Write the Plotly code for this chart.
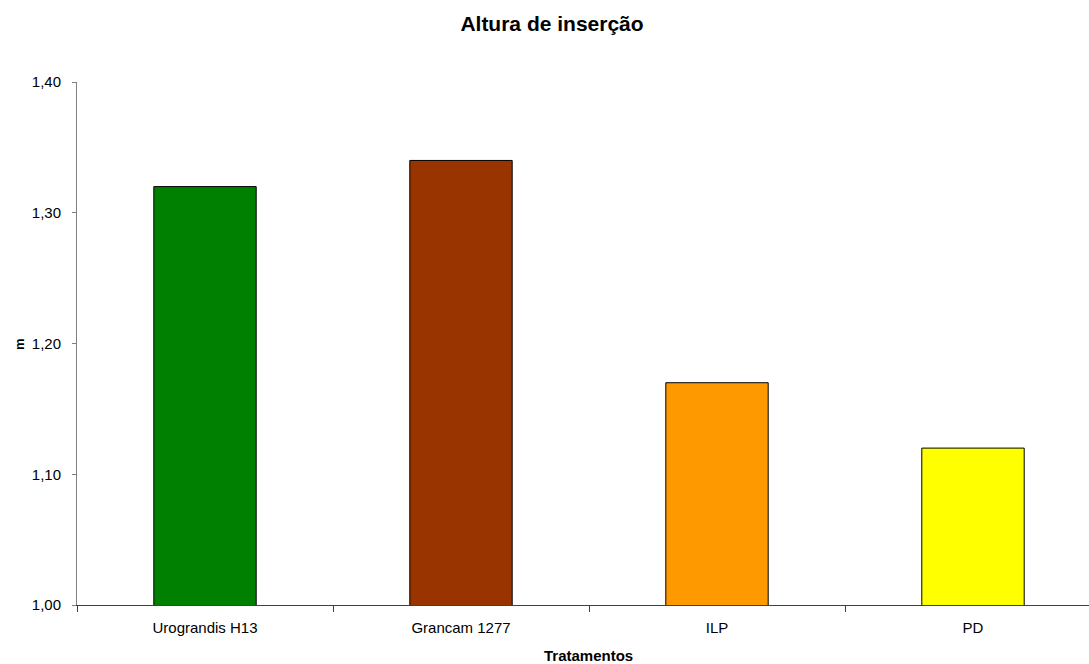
import plotly.graph_objects as go

# Altura de inserção por tratamento (m)
tratamentos = ["Urograndis H13", "Grancam 1277", "ILP", "PD"]
altura = [1.32, 1.34, 1.17, 1.12]
cores = ["#008000", "#993300", "#FF9900", "#FFFF00"]
y_ticks = [1.00, 1.10, 1.20, 1.30, 1.40]

FONT = "Liberation Sans, Arial, sans-serif"

W, H = 1089, 664
ML, MT, MB = 77, 82, 59

fig = go.Figure(
    go.Bar(
        x=tratamentos,
        y=altura,
        width=0.40,
        marker=dict(color=cores, line=dict(color="#000000", width=1)),
        showlegend=False,
    )
)

plot_w = W - ML
plot_h = H - MT - MB


def paper_x(px):
    return (px - ML) / plot_w


def paper_y(py):
    return (H - MB - py) / plot_h


fig.update_layout(
    width=W,
    height=H,
    margin=dict(l=ML, r=0, t=MT, b=MB),
    paper_bgcolor="white",
    plot_bgcolor="white",
    separators=",.",
    font=dict(family=FONT, size=15, color="#000000"),
    title=dict(
        text="<b>Altura de inserção</b>",
        font=dict(size=21, family=FONT, color="#000000"),
        x=552 / W,
        xref="container",
        xanchor="center",
        y=1 - 24 / H,
        yref="container",
        yanchor="middle",
    ),
    xaxis=dict(
        type="category",
        range=[-0.5, -0.5 + plot_w / 256],
        tickson="boundaries",
        ticks="outside",
        ticklen=6,
        tickcolor="#404040",
        showline=True,
        linecolor="#404040",
        linewidth=1,
        showgrid=False,
        tickfont=dict(size=15, family=FONT),
        ticklabelstandoff=9,
    ),
    yaxis=dict(
        range=[1.0, 1.4],
        tickvals=y_ticks,
        tickformat=".2f",
        ticks="outside",
        ticklen=4,
        tickcolor="#808080",
        showline=True,
        linecolor="#808080",
        linewidth=1,
        showgrid=False,
        zeroline=False,
        tickfont=dict(size=15, family=FONT),
        ticklabelstandoff=8,
    ),
    annotations=[
        dict(
            text="<b>Tratamentos</b>",
            x=paper_x(588), y=paper_y(655), xref="paper", yref="paper",
            xanchor="center", yanchor="middle",
            showarrow=False, font=dict(size=15, family=FONT),
        ),
        dict(
            text="<b>m</b>",
            x=paper_x(19), y=paper_y(344), xref="paper", yref="paper",
            xanchor="center", yanchor="middle",
            textangle=-90, showarrow=False, font=dict(size=13, family=FONT),
        ),
    ],
)

fig.write_html("out.html")
